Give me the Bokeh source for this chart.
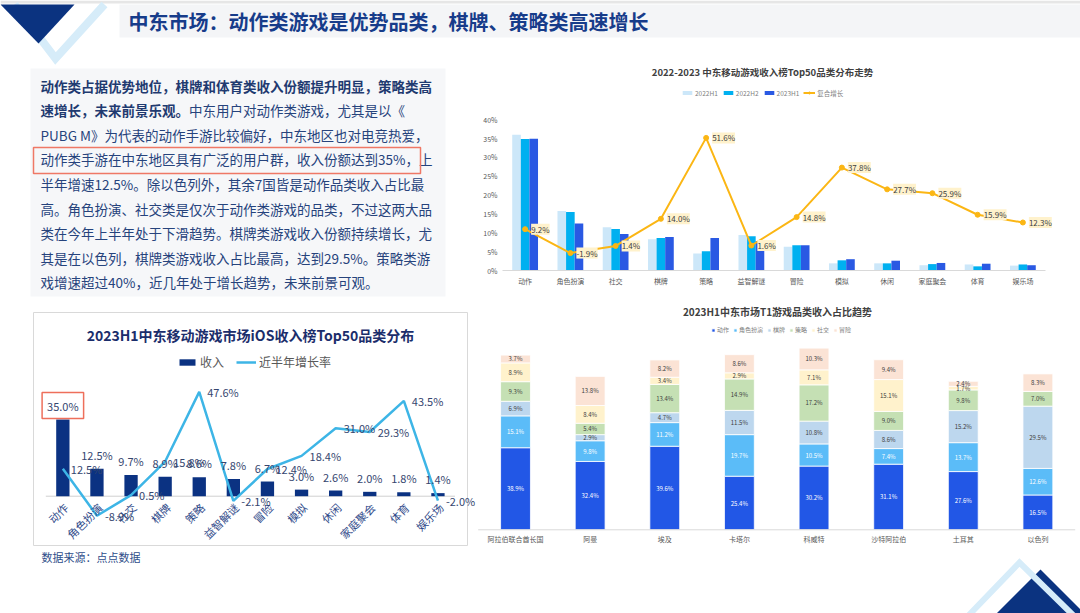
import math
import numpy as np
from bokeh.plotting import figure
from bokeh.models import (ColumnDataSource, Range1d, LabelSet, Label, Legend, LegendItem)
from bokeh.transform import dodge
from bokeh.core.properties import value
from bokeh.embed import file_html
from bokeh.resources import INLINE

FONT = "Noto Sans CJK SC"

# ------------------------------------------------------------------ data
PAGE_TITLE = "中东市场：动作类游戏是优势品类，棋牌、策略类高速增长"
SOURCE_NOTE = "数据来源：点点数据"

CATEGORIES = ["动作", "角色扮演", "社交", "棋牌", "策略", "益智解谜",
              "冒险", "模拟", "休闲", "家庭聚会", "体育", "娱乐场"]

TREND_TITLE = "2022-2023 中东移动游戏收入榜Top50品类分布走势"
TREND_NAMES = ["2022H1", "2022H2", "2023H1", "复合增长"]
SHARE_2022H1 = [36.0, 15.8, 11.5, 8.3, 4.5, 9.4, 6.3, 1.9, 1.9, 1.4, 1.6, 1.3]
SHARE_2022H2 = [34.9, 15.5, 11.0, 8.6, 5.1, 9.1, 6.7, 2.7, 1.9, 1.7, 1.1, 1.6]
SHARE_2023H1 = [35.0, 12.5, 9.7, 8.9, 8.6, 7.8, 6.7, 3.0, 2.6, 2.0, 1.8, 1.4]
CAGR = [9.2, -1.9, 1.4, 14.0, 51.6, 1.6, 14.8, 37.8, 27.7, 25.9, 15.9, 12.3]
TREND_TICKS = [0, 5, 10, 15, 20, 25, 30, 35, 40]

IOS_TITLE = "2023H1中东移动游戏市场iOS收入榜Top50品类分布"
IOS_NAMES = ["收入", "近半年增长率"]
IOS_REVENUE = [35.0, 12.5, 9.7, 8.9, 8.6, 7.8, 6.7, 3.0, 2.6, 2.0, 1.8, 1.4]
IOS_GROWTH = [12.5, -8.9, 0.5, 15.8, 47.6, -2.1, 12.4, 18.4, 31.0, 29.3, 43.5, -2.0]

T1_TITLE = "2023H1中东市场T1游戏品类收入占比趋势"
COUNTRIES = ["阿拉伯联合酋长国", "阿曼", "埃及", "卡塔尔", "科威特", "沙特阿拉伯", "土耳其", "以色列"]
GENRES = ["动作", "角色扮演", "棋牌", "策略", "社交", "冒险"]
T1_ACTION = [38.9, 32.4, 39.6, 25.4, 30.2, 31.1, 27.6, 16.5]
T1_RPG = [15.1, 9.8, 11.2, 19.7, 10.5, 7.4, 13.7, 12.6]
T1_BOARD = [6.9, 2.9, 4.7, 11.5, 10.8, 8.6, 15.2, 29.5]
T1_STRATEGY = [9.3, 5.4, 13.4, 14.9, 17.2, 9.0, 9.8, 7.0]
T1_SOCIAL = [8.9, 8.4, 3.4, 2.9, 7.1, 15.1, 1.7, 0.0]
T1_ADVENTURE = [3.7, 13.8, 8.2, 8.6, 10.3, 9.4, 2.4, 8.3]

PARAGRAPH = [
    ("动作类占据优势地位，棋牌和体育类收入份额提升明显，策略类高", ""),
    ("速增长，未来前景乐观。", "中东用户对动作类游戏，尤其是以《"),
    ("", "PUBG M》为代表的动作手游比较偏好，中东地区也对电竞热爱，"),
    ("", "动作类手游在中东地区具有广泛的用户群，收入份额达到35%，上"),
    ("", "半年增速12.5%。除以色列外，其余7国皆是动作品类收入占比最"),
    ("", "高。角色扮演、社交类是仅次于动作类游戏的品类，不过这两大品"),
    ("", "类在今年上半年处于下滑趋势。棋牌类游戏收入份额持续增长，尤"),
    ("", "其是在以色列，棋牌类游戏收入占比最高，达到29.5%。策略类游"),
    ("", "戏增速超过40%，近几年处于增长趋势，未来前景可观。"),
]

# ------------------------------------------------------------------ styles / page geometry
W, H = 1080, 613
NAVY = "#0b3380"
PALE = "#d6ecf9"
TEXT_NAVY = "#26437c"
GENRE_COLORS = ["#2257e6", "#5bbcf8", "#bdd7ee", "#c5e0b4", "#fff2cc", "#fbe3d5"]
TREND_COLORS = ["#cce7f9", "#00b0f0", "#2a59e3"]
ORANGE = "#fbb614"
GRAY_TXT = "#595959"


def xr(v0, v1, p0, p1):
    """Range whose value v0 lands on page pixel p0 and v1 on p1 (from left)."""
    k = (p1 - p0) / (v1 - v0)
    s = v0 - p0 / k
    return Range1d(s, s + W / k)


def yr(v0, v1, p0, p1):
    """Range whose value v0 lands on page pixel p0 and v1 on p1 (from top)."""
    q0, q1 = H - p0, H - p1
    k = (q1 - q0) / (v1 - v0)
    s = v0 - q0 / k
    return Range1d(s, s + H / k)


def pct(v):
    return f"{v:.1f}%"


def legend_at(items, left, center_y, row_h, **kw):
    # Legend tuple location = bottom-left corner, measured from the page bottom
    return Legend(items=items, orientation="horizontal", location=(left, H - (center_y + row_h / 2)),
                  margin=0, padding=0, label_height=row_h, label_width=0, border_line_color=None,
                  background_fill_color=None, label_text_font=FONT, **kw)


LABELSET_PAD = {"padding": 1.5} if "padding" in LabelSet.properties() else {}

nC = len(CATEGORIES)
nK = len(COUNTRIES)
IDX = list(range(nC))
KIDX = list(range(nK))

p = figure(width=W, height=H, x_range=Range1d(0, W), y_range=Range1d(H, 0),
           output_backend="svg", toolbar_location=None, min_border=0)
p.axis.visible = False
p.grid.visible = False
p.outline_line_color = None
p.background_fill_color = "white"
p.border_fill_color = "white"

p.extra_x_ranges = {
    "tr_x": xr(-0.5, nC - 0.5, 502, 1045),
    "ios_x": xr(-0.5, nC - 0.5, 45.3, 454.5),
    "br_x": xr(-0.5, nK - 0.5, 477.7, 1074.7),
}
p.extra_y_ranges = {
    "tr_y": yr(0, 40, 270, 119.3),
    "tr_r": yr(-10, 60, 270, 119.3),
    "ios_y": yr(0, 35, 495.7, 419.0),
    "br_y": yr(0, 90, 529.3, 339.4),
}

# ------------------------------------------------------------------ page decoration
p.quad(left=0, right=W, top=0, bottom=3, fill_color="#e6e6e6", line_color=None)
p.quad(left=119, right=W, top=4, bottom=37, fill_color="#f4f5f7", line_color=None)
p.line(x=[14, 55, 104], y=[4, 58, 4], line_width=8, line_color=PALE, line_join="miter")
p.patch(x=[0, 74, 38], y=[4, 4, 43], fill_color=NAVY, line_color=None)
p.patch(x=[1040, 996, 1084], y=[569, 613, 613], fill_color=NAVY, line_color=None)
p.line(x=[968, 1019, 1073], y=[615, 562, 615], line_width=6, line_color=PALE, line_join="miter")
p.text(x=[128], y=[21], text=[PAGE_TITLE], text_font=value(FONT), text_font_size="20px",
       text_font_style="bold", text_color="#173c8a", text_baseline="middle")

# ------------------------------------------------------------------ paragraph block
p.quad(left=30, right=445, top=68, bottom=296, fill_color="#f6f7f9", line_color=None)
FS = 13.5
LINE_H = 24.6
for i, (bold, normal) in enumerate(PARAGRAPH):
    yc = 85 + i * LINE_H
    if bold:
        p.text(x=[40], y=[yc], text=[bold], text_font=value(FONT), text_font_size=f"{FS}px",
               text_font_style="bold", text_color="#1f3a70", text_baseline="middle")
    if normal:
        p.text(x=[40 + len(bold) * FS], y=[yc], text=[normal], text_font=value(FONT),
               text_font_size=f"{FS}px", text_color=TEXT_NAVY, text_baseline="middle")
p.quad(left=33, right=420, top=147, bottom=173, fill_color=None, line_color="#ef7866", line_width=1.5)
p.text(x=[41], y=[556], text=[SOURCE_NOTE], text_font=value(FONT), text_font_size="11px",
       text_color="#2f4e8a", text_baseline="middle")

# ------------------------------------------------------------------ iOS chart (bottom-left)
p.quad(left=33, right=467, top=312, bottom=545, fill_color=None, line_color="#d9d9d9", line_width=1)
p.text(x=[250], y=[334], text=[IOS_TITLE], text_font=value(FONT), text_font_size="14px",
       text_font_style="bold", text_color="#1b2d6b", text_align="center", text_baseline="middle")
ios_src = ColumnDataSource(dict(i=IDX, rev=IOS_REVENUE, gr=IOS_GROWTH,
                                revl=[pct(v) for v in IOS_REVENUE],
                                grl=[pct(v) for v in IOS_GROWTH]))
IOS_R = dict(x_range_name="ios_x", y_range_name="ios_y")
p.segment(x0=[-0.5], x1=[nC - 0.5], y0=[0], y1=[0], line_color="#d0d0d0", line_width=1, **IOS_R)
rb = p.vbar(x="i", top="rev", width=0.39, source=ios_src, fill_color="#0b3282", line_color=None, **IOS_R)
rl = p.line(x="i", y="gr", source=ios_src, line_color="#3db5e6", line_width=2.5, **IOS_R)
p.text(x=IDX, y=[0] * nC, text=CATEGORIES, angle=math.pi / 4, text_align="right",
       text_baseline="middle", x_offset=3, y_offset=9, text_font=value(FONT),
       text_font_size="11px", text_color="#2f4a8a", **IOS_R)
lab_kw = dict(text_font=value(FONT), text_font_size="11px", text_color="#35466f")
rev_src = ColumnDataSource(dict(i=IDX[1:], rev=IOS_REVENUE[1:], revl=[pct(v) for v in IOS_REVENUE[1:]]))
p.add_layout(LabelSet(x="i", y="rev", text="revl", source=rev_src, text_align="center",
                      text_baseline="middle", y_offset=14, **IOS_R, **lab_kw))
p.add_layout(Label(x=IDX[0], y=IOS_REVENUE[0], text=pct(IOS_REVENUE[0]), text_align="center",
                   text_baseline="middle", y_offset=14, text_font=FONT, text_font_size="11px",
                   text_color="#35466f", border_line_color="#ee6f5b", border_line_width=1.5,
                   padding=5, **IOS_R))
p.add_layout(LabelSet(x="i", y="gr", text="grl", source=ios_src, text_align="left",
                      text_baseline="middle", x_offset=8, **IOS_R, **lab_kw))
p.add_layout(legend_at([LegendItem(label=IOS_NAMES[0], renderers=[rb]),
                        LegendItem(label=IOS_NAMES[1], renderers=[rl])],
                       left=177, center_y=363, row_h=14,
                       spacing=12, label_standoff=3, glyph_width=20, glyph_height=8,
                       label_text_font_size="12px", label_text_color=GRAY_TXT))

# ------------------------------------------------------------------ trend chart (top-right)
p.text(x=[762], y=[71], text=[TREND_TITLE], text_font=value(FONT), text_font_size="9.5px",
       text_font_style="bold", text_color="#404040", text_align="center", text_baseline="middle")
tr_src = ColumnDataSource(dict(i=IDX, a=SHARE_2022H1, b=SHARE_2022H2, c=SHARE_2023H1,
                               g=CAGR, gl=[pct(v) for v in CAGR]))
TR = dict(x_range_name="tr_x", y_range_name="tr_y")
bars = []
for key, off, col in zip(["a", "b", "c"], [-0.19, 0.0, 0.19], TREND_COLORS):
    bars.append(p.vbar(x=dodge("i", off), top=key, width=0.19, source=tr_src,
                       fill_color=col, line_color=None, **TR))
p.segment(x0=[-0.5], x1=[nC - 0.5], y0=[0], y1=[0], line_color="#d9d9d9", line_width=1, **TR)
tl = p.line(x="i", y="g", source=tr_src, x_range_name="tr_x", y_range_name="tr_r",
            line_color=ORANGE, line_width=2)
ts = p.scatter(x="i", y="g", source=tr_src, x_range_name="tr_x", y_range_name="tr_r", size=5,
               fill_color=ORANGE, line_color=ORANGE)
p.add_layout(LabelSet(x="i", y="g", text="gl", source=tr_src, x_range_name="tr_x", y_range_name="tr_r",
                      x_offset=6, text_align="left", text_baseline="middle",
                      text_font=value(FONT), text_font_size="8px", text_color="#404040",
                      background_fill_color="#fff2cc", **LABELSET_PAD))
p.text(x=[-0.5] * len(TREND_TICKS), y=TREND_TICKS, text=[f"{t}%" for t in TREND_TICKS],
       x_offset=-5, text_align="right", text_baseline="middle", text_font=value(FONT),
       text_font_size="7px", text_color=GRAY_TXT, **TR)
p.text(x=IDX, y=[0] * nC, text=CATEGORIES, y_offset=5, text_align="center", text_baseline="top",
       text_font=value(FONT), text_font_size="7px", text_color=GRAY_TXT, **TR)
p.add_layout(legend_at([LegendItem(label=TREND_NAMES[0], renderers=[bars[0]]),
                        LegendItem(label=TREND_NAMES[1], renderers=[bars[1]]),
                        LegendItem(label=TREND_NAMES[2], renderers=[bars[2]]),
                        LegendItem(label=TREND_NAMES[3], renderers=[tl, ts])],
                       left=681, center_y=93, row_h=9,
                       spacing=4, label_standoff=2, glyph_width=12, glyph_height=5,
                       label_text_font_size="6.5px", label_text_color="#808080"))

# ------------------------------------------------------------------ T1 stacked chart (bottom-right)
p.text(x=[777], y=[311], text=[T1_TITLE], text_font=value(FONT), text_font_size="10px",
       text_font_style="bold", text_color="#404040", text_align="center", text_baseline="middle")
BR = dict(x_range_name="br_x", y_range_name="br_y")
series = [T1_ACTION, T1_RPG, T1_BOARD, T1_STRATEGY, T1_SOCIAL, T1_ADVENTURE]
br_data = dict(k=KIDX)
for g, s in zip(GENRES, series):
    br_data[g] = s
br_src = ColumnDataSource(br_data)
stk = p.vbar_stack(GENRES, x="k", width=0.40, source=br_src, color=GENRE_COLORS,
                   line_color="white", line_width=0.8, **BR)
p.segment(x0=[-0.5], x1=[nK - 0.5], y0=[0], y1=[0], line_color="#d9d9d9", line_width=1, **BR)
arr = np.array(series)
mids = np.cumsum(arr, axis=0) - arr / 2
sx, sy, st, sc = [], [], [], []
for gi in range(len(GENRES)):
    for ci in KIDX:
        v = arr[gi, ci]
        if v > 0:
            sx.append(ci)
            sy.append(float(mids[gi, ci]))
            st.append(pct(v))
            sc.append("#ffffff" if gi < 2 else "#404040")
seg_src = ColumnDataSource(dict(x=sx, y=sy, t=st, tc=sc))
p.add_layout(LabelSet(x="x", y="y", text="t", source=seg_src, text_align="center",
                      text_baseline="middle", text_font=value(FONT), text_font_size="6px",
                      text_color="tc", **BR))
p.text(x=KIDX, y=[0] * nK, text=COUNTRIES, y_offset=4, text_align="center", text_baseline="top",
       text_font=value(FONT), text_font_size="7px", text_color=GRAY_TXT, **BR)
p.add_layout(legend_at([LegendItem(label=g, renderers=[r]) for g, r in zip(GENRES, stk)],
                       left=711, center_y=330, row_h=8,
                       spacing=4, label_standoff=2, glyph_width=4, glyph_height=4,
                       label_text_font_size="6px", label_text_color="#808080"))

with open("out.html", "w") as f:
    f.write(file_html(p, INLINE))
